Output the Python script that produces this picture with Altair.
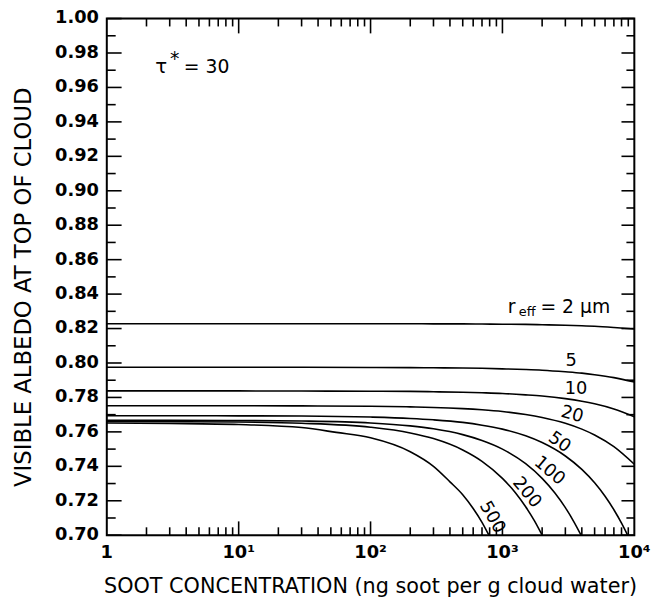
import altair as alt
import pandas as pd

# ---- data ----
C_A = [1, 3, 10, 30, 100, 200, 300, 500, 700, 1000, 1500, 2000, 3000, 4000, 5000, 7000, 10000]
R2 = [0.8228, 0.8228, 0.8228, 0.8228, 0.8228, 0.8228, 0.8227, 0.8227, 0.8226, 0.8225, 0.8224, 0.8222, 0.8219, 0.8216, 0.8213, 0.8206, 0.8197]
R5 = [0.7975, 0.7975, 0.7975, 0.7975, 0.7974, 0.7973, 0.7972, 0.7971, 0.7969, 0.7966, 0.7962, 0.7958, 0.7949, 0.7941, 0.7932, 0.7915, 0.7890]
R10 = [0.7838, 0.7838, 0.7838, 0.7837, 0.7836, 0.7835, 0.7833, 0.7830, 0.7827, 0.7823, 0.7815, 0.7808, 0.7793, 0.7778, 0.7763, 0.7733, 0.7688]
R20 = [0.7752, 0.7752, 0.7752, 0.7751, 0.7749, 0.7745, 0.7742, 0.7735, 0.7728, 0.7718, 0.7701, 0.7684, 0.7650, 0.7616, 0.7582, 0.7514, 0.7412]

C_50 = [1, 3, 10, 30, 100, 200, 300, 500, 700, 1000, 1500, 2000, 3000, 4000, 5000, 6000, 7000, 8000, 8900]
R50 = [0.7694, 0.7694, 0.7693, 0.7692, 0.7686, 0.7678, 0.7670, 0.7655, 0.7639, 0.7616, 0.7577, 0.7538, 0.7460, 0.7382, 0.7304, 0.7226, 0.7148, 0.7070, 0.7000]

C_100 = [1, 3, 10, 30, 100, 200, 300, 500, 700, 1000, 1500, 2000, 2500, 3000, 3500, 3950]
R100 = [0.7668, 0.7668, 0.7666, 0.7663, 0.7652, 0.7635, 0.7618, 0.7584, 0.7550, 0.7500, 0.7415, 0.7330, 0.7245, 0.7160, 0.7075, 0.7000]

C_200 = [1, 3, 10, 30, 100, 200, 300, 500, 700, 1000, 1250, 1500, 1750, 2000]
R200 = [0.7660, 0.7659, 0.7657, 0.7650, 0.7627, 0.7594, 0.7561, 0.7495, 0.7429, 0.7330, 0.7248, 0.7165, 0.7083, 0.7000]

C_500 = [1, 3, 10, 30, 55, 100, 200, 300, 400, 500, 600, 700, 790]
R500 = [0.7652, 0.7649, 0.7643, 0.7625, 0.7597, 0.7566, 0.7485, 0.7400, 0.7310, 0.7235, 0.7155, 0.7075, 0.7000]

# tick positions and tick labels
Y_MAJOR = [0.70, 0.72, 0.74, 0.76, 0.78, 0.80, 0.82, 0.84, 0.86, 0.88, 0.90, 0.92, 0.94, 0.96, 0.98, 1.00]
Y_MINOR = [0.71, 0.73, 0.75, 0.77, 0.79, 0.81, 0.83, 0.85, 0.87, 0.89, 0.91, 0.93, 0.95, 0.97, 0.99]
Y_LABELS = ["0.70", "0.72", "0.74", "0.76", "0.78", "0.80", "0.82", "0.84", "0.86", "0.88",
            "0.90", "0.92", "0.94", "0.96", "0.98", "1.00"]
X_TICKS = [1, 10, 100, 1000, 10000]
X_LABELS = ["1", "10\u00b9", "10\u00b2", "10\u00b3", "10\u2074"]
X_MAJOR = [10, 100, 1000]
X_MINOR = [2, 3, 4, 5, 6, 7, 8, 9, 20, 30, 40, 50, 60, 70, 80, 90,
           200, 300, 400, 500, 600, 700, 800, 900, 2000, 3000, 4000, 5000, 6000, 7000, 8000, 9000]
X_TITLE = "SOOT CONCENTRATION (ng soot per g cloud water)"
Y_TITLE = "VISIBLE ALBEDO AT TOP OF CLOUD"

# curve labels (anchor in data coordinates)
LBL_TEXT = ["5", "10", "20", "50", "100", "200", "500"]
LBL_C = [3315, 3614, 3375, 2698, 2268, 1527, 834]
LBL_A = [0.8010, 0.7849, 0.7700, 0.7539, 0.7373, 0.7247, 0.7103]
LBL_ANGLE = [0, 0, 15, 35, 40, 50, 60]

curves = [("2", C_A, R2), ("5", C_A, R5), ("10", C_A, R10), ("20", C_A, R20),
          ("50", C_50, R50), ("100", C_100, R100), ("200", C_200, R200), ("500", C_500, R500)]
rows = []
for r, cs, vs in curves:
    for c, v in zip(cs, vs):
        rows.append({"r": r, "c": c, "A": v})
df = pd.DataFrame(rows)

W, H = 534, 523
FONT = "DejaVu Sans"
XMIN, XMAX, YMIN, YMAX = 1, 10000, 0.70, 1.00
xscale = alt.Scale(type="log", domain=[XMIN, XMAX], nice=False)
yscale = alt.Scale(domain=[YMIN, YMAX], nice=False, zero=False)


def XE(field="c"):
    return alt.X(f"{field}:Q", scale=xscale, axis=None)


def YE(field="A"):
    return alt.Y(f"{field}:Q", scale=yscale, axis=None)


lines = alt.Chart(df).mark_line(color="black", strokeWidth=1.6, interpolate="monotone", clip=True).encode(
    x=XE(), y=YE(), detail="r:N")


# inward tick marks (positions from the scales, lengths in pixels)
def yticks(vals, x0, x1):
    return alt.Chart(pd.DataFrame({"A": vals})).mark_rule(color="black", strokeWidth=1.6).encode(
        y=YE(), x=alt.value(x0), x2=alt.value(x1))


def xticks(vals, y0, y1):
    return alt.Chart(pd.DataFrame({"c": vals})).mark_rule(color="black", strokeWidth=1.6).encode(
        x=XE(), y=alt.value(y0), y2=alt.value(y1))


ticks = [
    yticks(Y_MAJOR, 0, 15), yticks(Y_MINOR, 0, 9),
    yticks(Y_MAJOR, W - 13, W), yticks(Y_MINOR, W - 8, W),
    xticks(X_MAJOR, H, H - 14), xticks(X_MINOR, H, H - 8),
    xticks(X_MAJOR, 0, 15), xticks(X_MINOR, 0, 8),
]

# plot frame spanning the scale domains
frame_df = pd.DataFrame({"c": [XMIN], "c2": [XMAX], "A": [YMIN], "A2": [YMAX]})
frame = alt.Chart(frame_df).mark_rect(fillOpacity=0, stroke="black", strokeWidth=2).encode(
    x=XE(), x2="c2:Q", y=YE(), y2="A2:Q")

# axis tick labels and titles
ylab = alt.Chart(pd.DataFrame({"A": Y_MAJOR, "t": Y_LABELS})).mark_text(
    font=FONT, fontSize=18, fontWeight="bold", color="black", align="right", baseline="middle").encode(
    y=YE(), x=alt.value(-8), text="t:N")
xlab = alt.Chart(pd.DataFrame({"c": X_TICKS, "t": X_LABELS})).mark_text(
    font=FONT, fontSize=18, fontWeight="bold", color="black", align="center", baseline="top").encode(
    x=XE(), y=alt.value(H + 9), text="t:N")
xtitle = alt.Chart(pd.DataFrame({"t": [X_TITLE]})).mark_text(
    font=FONT, fontSize=21, color="black", align="center", baseline="middle").encode(
    x=alt.value(W / 2), y=alt.value(H + 53), text="t:N")
ytitle = alt.Chart(pd.DataFrame({"t": [Y_TITLE]})).mark_text(
    font=FONT, fontSize=23, color="black", align="center", baseline="middle", angle=270).encode(
    x=alt.value(-84), y=alt.value(272), text="t:N")

lbl_df = pd.DataFrame({"text": LBL_TEXT, "c": LBL_C, "A": LBL_A, "angle": LBL_ANGLE})
curve_labels = alt.Chart(lbl_df).mark_text(font=FONT, fontSize=18, color="black", align="center",
                                           baseline="middle").encode(
    x=XE(), y=YE(), text="text:N", angle=alt.Angle("angle:Q", scale=None))

# r_eff = 2 um label and tau* = 30 annotation
ann_df = pd.DataFrame({
    "text": ["r", "eff", "= 2 \u03bcm", "\u03c4", "*", "= 30"],
    "c": [1099, 1330, 1942, 2.33, 3.02, 3.84],
    "A": [0.8322, 0.8297, 0.8322, 0.9720, 0.9765, 0.9720],
    "size": [19, 13, 19, 20, 19, 19],
})
annotations = alt.Chart(ann_df).mark_text(font=FONT, color="black", align="left",
                                          baseline="middle").encode(
    x=XE(), y=YE(), text="text:N", size=alt.Size("size:Q", scale=None, legend=None))

chart = alt.layer(lines, *ticks, frame, ylab, xlab, xtitle, ytitle, curve_labels, annotations).properties(
    width=W, height=H,
    autosize=alt.AutoSizeParams(type="none"),
    padding={"left": 100, "top": 7, "right": 26, "bottom": 70},
).configure(background="white")

chart.save("out.html", embed_options={"renderer": "svg", "actions": False})
